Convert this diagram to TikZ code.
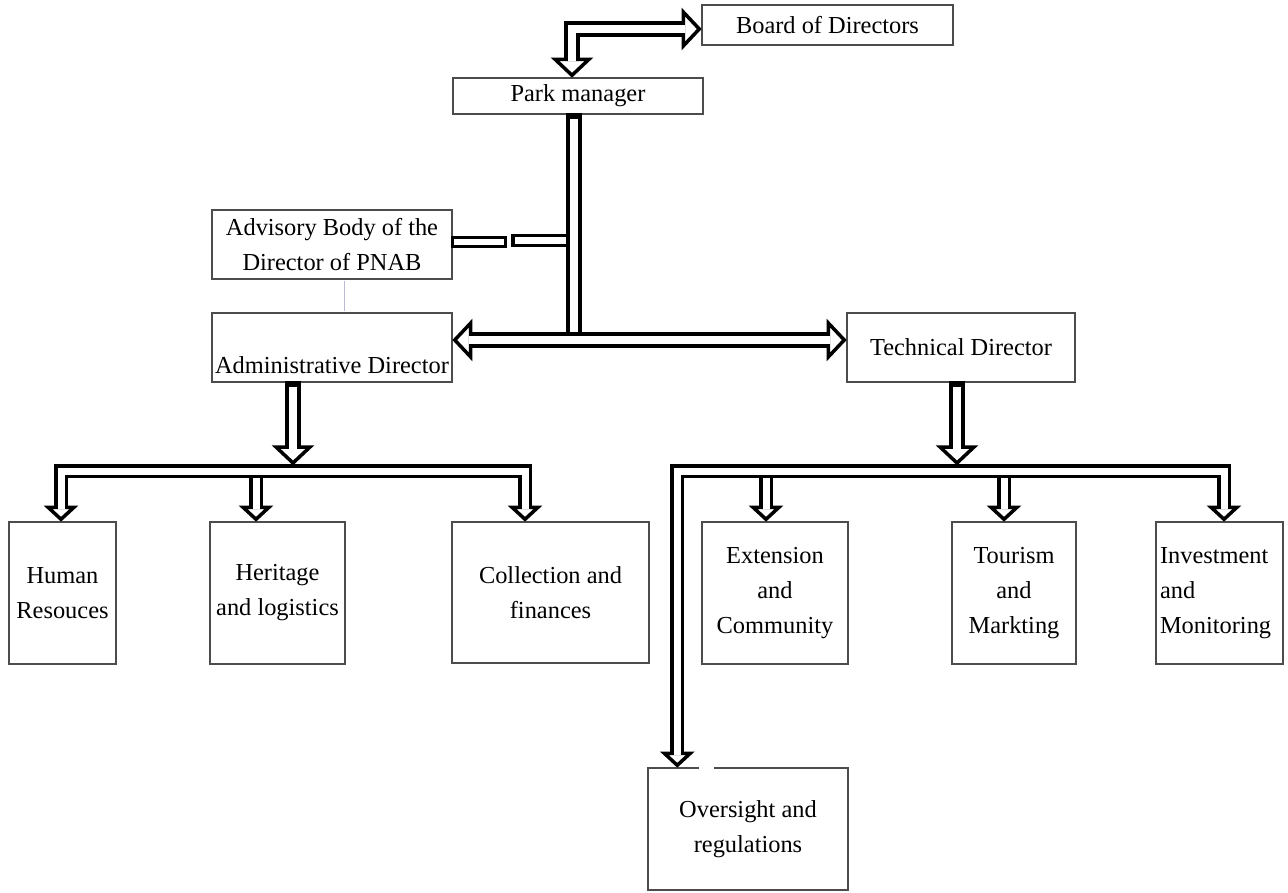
\documentclass[tikz,border=0pt]{standalone}
\usepackage{fontspec}
\setmainfont{Liberation Serif}
\usetikzlibrary{calc}
\begin{document}
\begin{tikzpicture}[x=0.75pt,y=-0.75pt,
  font=\fontsize{18.3pt}{26.3pt}\selectfont,
  box/.style 2 args={draw=black!70, line width=1.1pt, minimum width=#1*0.75pt, minimum height=#2*0.75pt, inner sep=0pt, align=center},
  outerM/.style={draw=black, line width=16*0.75pt, line join=miter},
  innerM/.style={draw=white, line width=8*0.75pt, line join=miter},
  outerS/.style={draw=black, line width=14*0.75pt, line join=miter},
  innerS/.style={draw=white, line width=7*0.75pt, line join=miter},
  headline/.style={draw=black, fill=white, line width=3.5*0.75pt, line join=miter},
  headM/.pic={\path[headline] (0,0) -- (-17,-16) -- (17,-16) -- cycle;},
  headS/.pic={\path[headline] (0,0) -- (-13,-12) -- (13,-12) -- cycle;},
  faint/.style={draw=blue!20!gray!45, line width=0.6pt}
]
\useasboundingbox (0,0) rectangle (1288,892);

% ---------- boxes ----------
\node[box={251}{40}] (board) at (827.5,25) {Board of Directors};
\node[box={250}{36}] (pm) at (578,96) {Park manager};
\node[box={240}{69}] (adv) at (332,244.5) {Advisory Body of the\\Director of PNAB};
\node[box={240}{69}] (adm) at (332,347.5) {};
\node[anchor=base, inner sep=0pt] (admtext) at (332,373) {Administrative Director};
\node[box={228}{69}] (tech) at (961,347.5) {Technical Director};
\node[box={107}{142}] (hr) at (62.5,593) {Human\\Resouces};
\node[box={135}{142}] (her) at (277.5,593) {Heritage\\and logistics};
\node[box={197}{141}] (col) at (550.5,592.5) {Collection and\\finances};
\node[box={146}{142}] (ext) at (775,593) {Extension\\and\\Community};
\node[box={124}{142}] (tour) at (1014,593) {Tourism\\and\\Markting};
\node[box={127}{142}, align=left, text width=119*0.75pt] (inv) at (1219.5,593) {Investment\\and\\Monitoring};
\node[box={200}{122}] (ovs) at (748,829) {Oversight and\\regulations};
\draw[white, line width=3*0.75pt] ($(ovs.north west)+(52,0)$) -- ($(ovs.north west)+(67,0)$);
\draw[faint] ($(adv.south)+(12,1)$) -- ($(adm.north)+(12,-1)$);

% ---------- coordinates ----------
\coordinate (tA) at ($(pm.north)+(-6,-2)$);
\coordinate (tB) at ($(board.west)+(-2,4)$);
\coordinate (kA) at (tA |- tB);
\coordinate (mS) at ($(pm.south)+(-4,-2)$);
\coordinate (hL) at ($(adm.east)+(2,-7.5)$);
\coordinate (hR) at ($(tech.west)+(-2,-7.5)$);
\coordinate (mJ) at (mS |- hL);
\coordinate (barY) at (0,471);
\coordinate (aS) at ($(adm.south)+(-39,-2)$);
\coordinate (aB) at (aS |- barY);
\coordinate (aT) at ($(aB)+(0,-8)$);
\coordinate (tS) at ($(tech.south)+(-4,-2)$);
\coordinate (tBb) at (tS |- barY);
\coordinate (tT) at ($(tBb)+(0,-8)$);
\coordinate (hrT) at ($(hr.north)+(-1.5,-2)$);
\coordinate (herT) at ($(her.north)+(-21.5,-2)$);
\coordinate (colT) at ($(col.north)+(-25.5,-2)$);
\coordinate (ovsT) at ($(ovs.north west)+(30,-2)$);
\coordinate (extT) at ($(ext.north)+(-9,-2)$);
\coordinate (tourT) at ($(tour.north)+(-10,-2)$);
\coordinate (invT) at ($(inv.north)+(4.5,-2)$);
\coordinate (hrB) at (hrT |- barY);
\coordinate (herB) at (herT |- barY);
\coordinate (colB) at (colT |- barY);
\coordinate (ovsB) at (ovsT |- barY);
\coordinate (extB) at (extT |- barY);
\coordinate (tourB) at (tourT |- barY);
\coordinate (invB) at (invT |- barY);

% ---------- advisory link ----------
\draw[headline] ($(adv.east)+(0,-7)$) rectangle ($(adv.east)+(53,2)$);
\draw[headline] ($(mS |- adv.east)+(-61,-9)$) rectangle ($(mS |- adv.east)+(-4,1)$);

% ---------- outer strokes ----------
\draw[outerM] ($(tA)+(0,-16)$) -- (kA) -- ($(tB)+(-16,0)$);
\draw[outerM] (mS) -- (mJ);
\draw[outerM] ($(hL)+(16,0)$) -- ($(hR)+(-16,0)$);
\draw[outerM] (aS) -- ($(aT)+(0,-16)$);
\draw[outerM] (tS) -- ($(tT)+(0,-16)$);
\draw[outerS] ($(hrT)+(0,-12)$) -- (hrB) -- (colB) -- ($(colT)+(0,-12)$);
\draw[outerS] (herB) -- ($(herT)+(0,-12)$);
\draw[outerS] ($(ovsT)+(0,-12)$) -- (ovsB) -- (invB) -- ($(invT)+(0,-12)$);
\draw[outerS] (extB) -- ($(extT)+(0,-12)$);
\draw[outerS] (tourB) -- ($(tourT)+(0,-12)$);

% ---------- heads ----------
\pic at (tA) {headM};
\pic[rotate=90] at (tB) {headM};
\pic[rotate=-90] at (hL) {headM};
\pic[rotate=90] at (hR) {headM};
\pic at (aT) {headM};
\pic at (tT) {headM};
\pic at (hrT) {headS};
\pic at (herT) {headS};
\pic at (colT) {headS};
\pic at (ovsT) {headS};
\pic at (extT) {headS};
\pic at (tourT) {headS};
\pic at (invT) {headS};

% ---------- inner strokes ----------
\draw[innerM] ($(tA)+(0,-14)$) -- (kA) -- ($(tB)+(-14,0)$);
\draw[innerM] ($(mS)+(0,6)$) -- ($(mJ)+(0,-8)$);
\draw[innerM] ($(hL)+(14,0)$) -- ($(hR)+(-14,0)$);
\draw[innerM] ($(aS)+(0,6)$) -- ($(aT)+(0,-14)$);
\draw[innerM] ($(tS)+(0,6)$) -- ($(tT)+(0,-14)$);
\draw[innerS] ($(hrT)+(0,-10)$) -- (hrB) -- (colB) -- ($(colT)+(0,-10)$);
\draw[innerS] ($(herB)+(0,7)$) -- ($(herT)+(0,-10)$);
\draw[innerS] ($(ovsT)+(0,-10)$) -- (ovsB) -- (invB) -- ($(invT)+(0,-10)$);
\draw[innerS] ($(extB)+(0,7)$) -- ($(extT)+(0,-10)$);
\draw[innerS] ($(tourB)+(0,7)$) -- ($(tourT)+(0,-10)$);
\end{tikzpicture}
\end{document}
